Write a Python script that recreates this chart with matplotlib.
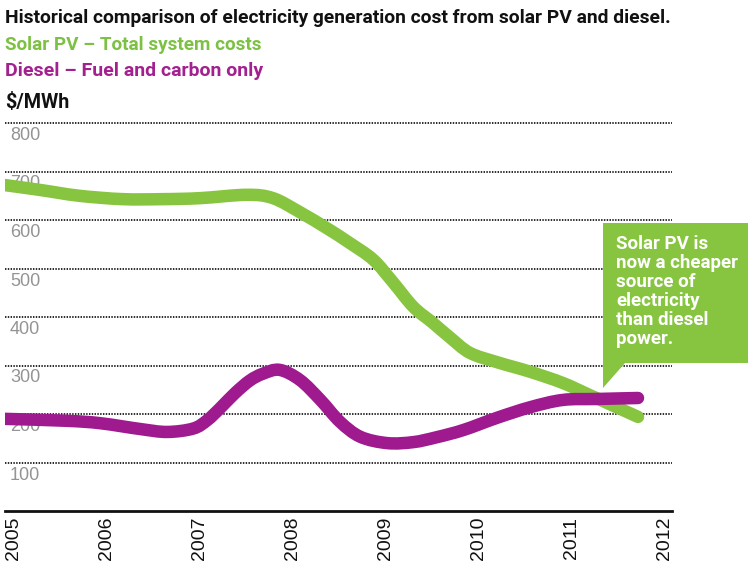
import matplotlib
matplotlib.use("Agg")
import matplotlib.pyplot as plt
from matplotlib.patches import Polygon, PathPatch
from matplotlib.path import Path
from matplotlib import font_manager

# ---- data ($/MWh) ----
solar_years = [2004.90, 2005.28, 2005.70, 2006.17, 2006.60, 2007.00, 2007.51, 2007.79,
               2008.08, 2008.37, 2008.62, 2008.87, 2009.08, 2009.30, 2009.51, 2009.70,
               2009.91, 2010.20, 2010.56, 2010.91, 2011.20, 2011.49, 2011.72]
solar_cost = [672, 662, 650, 643, 643, 645, 652, 645,
              616, 583, 552, 518, 472, 421, 388, 357,
              326, 307, 287, 264, 239, 214, 194]

diesel_years = [2004.90, 2005.57, 2005.93, 2006.36, 2006.65, 2006.93, 2007.08, 2007.22,
                2007.38, 2007.54, 2007.68, 2007.86, 2008.08, 2008.30, 2008.51, 2008.73,
                2009.02, 2009.30, 2009.55, 2009.84, 2010.20, 2010.56, 2010.91, 2011.28,
                2011.72]
diesel_cost = [190, 186, 181, 169, 163, 170, 187, 212,
               243, 269, 283, 291, 270, 229, 184, 153,
               140, 142, 152, 167, 192, 214, 229, 231,
               233]

year_ticks = [2005, 2006, 2007, 2008, 2009, 2010, 2011, 2012]
value_ticks = [100, 200, 300, 400, 500, 600, 700, 800]

title = "Historical comparison of electricity generation cost from solar PV and diesel."
solar_label = "Solar PV \u2013 Total system costs"
diesel_label = "Diesel \u2013 Fuel and carbon only"
unit_label = "$/MWh"
callout_text = "Solar PV is\nnow a cheaper\nsource of\nelectricity\nthan diesel\npower."

GREEN = "#87c540"
PURPLE = "#9e1a8e"
GREEN_TXT = "#7cc143"
PURPLE_TXT = "#a3208f"

W, H = 748, 567
fig = plt.figure(figsize=(W / 100, H / 100), dpi=100)

installed = {f.name for f in font_manager.fontManager.ttflist}
head_font = "Roboto" if "Roboto" in installed else "Liberation Sans"
regular = "Liberation Sans"


def fx(px):
    return px / W


def fy(py):
    return 1 - py / H


def smooth_path(xs, ys):
    """Cubic Bezier path passing through every point (Catmull-Rom tangents)."""
    pts = list(zip(xs, ys))
    n = len(pts)
    verts = [pts[0]]
    codes = [Path.MOVETO]
    for i in range(n - 1):
        p0 = pts[i - 1] if i > 0 else pts[i]
        p1 = pts[i]
        p2 = pts[i + 1]
        p3 = pts[i + 2] if i + 2 < n else pts[i + 1]
        c1 = (p1[0] + (p2[0] - p0[0]) / 6, p1[1] + (p2[1] - p0[1]) / 6)
        c2 = (p2[0] - (p3[0] - p1[0]) / 6, p2[1] - (p3[1] - p1[1]) / 6)
        verts += [c1, c2, p2]
        codes += [Path.CURVE4] * 3
    return Path(verts, codes)


# axes: x from px 5 to 672, y value 0 at px 511, 800 at px 123
ax = fig.add_axes([fx(5), fy(511), fx(672) - fx(5), fy(123) - fy(511)])
x_left = 2005 - 9 / 92.86
x_right = 2012 + 8 / 92.86
ax.set_xlim(x_left, x_right)
ax.set_ylim(0, 800)

for s in ["top", "right", "left"]:
    ax.spines[s].set_visible(False)
ax.spines["bottom"].set_linewidth(2.0)
ax.spines["bottom"].set_color("#111111")
ax.set_yticks([])

# dotted horizontal gridlines with value labels underneath
for v in value_ticks:
    ax.axhline(v, color="#1a1a1a", lw=1.3, linestyle=(0, (0.8, 0.75)), zorder=1, clip_on=False)
    ax.annotate(str(v), xy=(0, v), xycoords=("axes fraction", "data"),
                xytext=(5, -4), textcoords="offset pixels", ha="left", va="top",
                fontsize=13, color="#949494", family=regular, zorder=2)

ax.set_xticks(year_ticks)
ax.set_xticklabels([str(y) for y in year_ticks], rotation=90, fontsize=14,
                   family=regular, color="#111111")
ax.tick_params(axis="x", length=0, pad=4)

for xs, ys, col, z in [(solar_years, solar_cost, GREEN, 3),
                       (diesel_years, diesel_cost, PURPLE, 4)]:
    ax.add_patch(PathPatch(smooth_path(xs, ys), facecolor="none", edgecolor=col,
                           lw=9, capstyle="round", joinstyle="round", zorder=z))

# callout box with pointer
box = Polygon([(fx(603), fy(223)), (fx(748), fy(223)), (fx(748), fy(363)),
               (fx(625), fy(363)), (fx(603), fy(388)), (fx(603), fy(223))],
              closed=True, transform=fig.transFigure, facecolor=GREEN,
              edgecolor="none", zorder=10)
fig.add_artist(box)

renderer = fig.canvas.get_renderer()

ct = fig.text(fx(616), fy(235), callout_text, color="white", fontsize=12,
              family=head_font, weight="bold", ha="left", va="top",
              linespacing=1.0, zorder=11)
probe = fig.text(0, 0, "now a cheaper", fontsize=12, family=head_font, weight="bold")
scale = 122 / probe.get_window_extent(renderer).width
probe.remove()
ct.set_fontsize(12 * scale)
# line pitch of about 20 px
ct.set_linespacing(20 / (12 * scale * 100 / 72))


# header texts, sized to their widths
def fitted_text(x, y, s, color, target_w, family, weight="bold"):
    t = fig.text(fx(x), fy(y), s, color=color, fontsize=12, family=family,
                 weight=weight, ha="left", va="center")
    w = t.get_window_extent(renderer).width
    t.set_fontsize(12 * target_w / w)
    return t


fitted_text(5, 18, title, "#111111", 667, head_font)
fitted_text(5, 45, solar_label, GREEN_TXT, 257, head_font)
fitted_text(5, 71, diesel_label, PURPLE_TXT, 257, head_font)
fitted_text(5, 103, unit_label, "#111111", 64, head_font)

fig.savefig("out.png", dpi=100)
